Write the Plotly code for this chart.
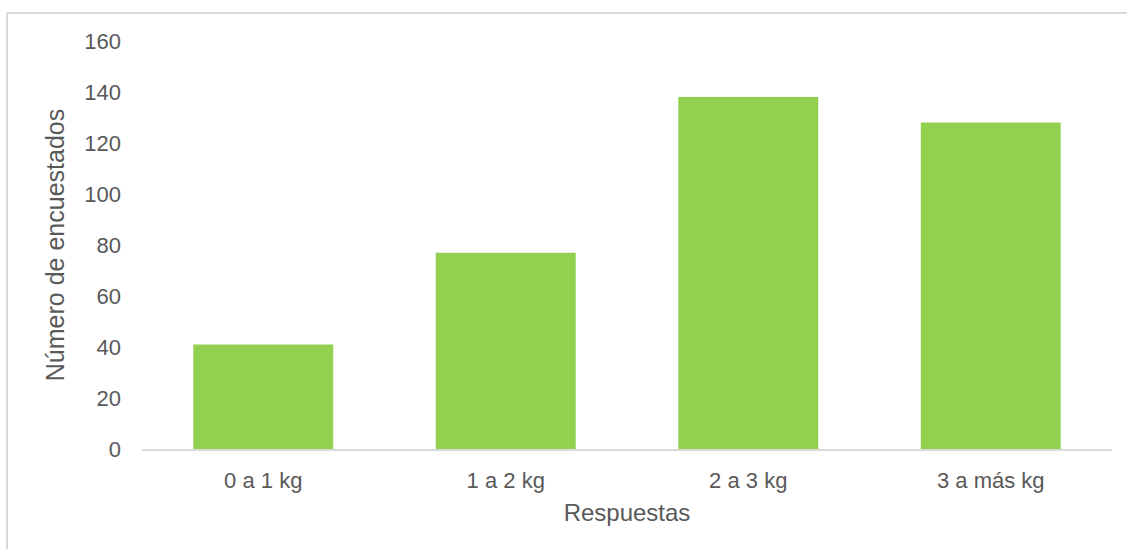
import plotly.graph_objects as go

# Survey responses by weight range
categorias = ["0 a 1 kg", "1 a 2 kg", "2 a 3 kg", "3 a más kg"]
encuestados = [41, 77, 138, 128]
y_ticks = [0, 20, 40, 60, 80, 100, 120, 140, 160]

TEXT = "#595959"
FONT = "Liberation Sans, Arial, sans-serif"

fig = go.Figure(
    go.Bar(
        x=categorias,
        y=encuestados,
        marker=dict(color="#92D050", line=dict(width=0)),
        hoverinfo="x+y",
    )
)

W, H = 1127, 549
L, R, T, B = 142, 15, 41, 100
pw, ph = W - L - R, H - T - B


def px_x(p):
    return (p - L) / pw


def px_y(p):
    return (H - B - p) / ph


fig.update_layout(
    width=W,
    height=H,
    margin=dict(l=L, r=R, t=T, b=B),
    paper_bgcolor="white",
    plot_bgcolor="white",
    bargap=0.423,
    showlegend=False,
    font=dict(family=FONT, color=TEXT),
    xaxis=dict(
        showgrid=False,
        showline=True,
        linecolor="#D9D9D9",
        linewidth=2,
        ticks="",
        tickfont=dict(size=22, color=TEXT),
        ticklabelstandoff=11,
        title=dict(text="Respuestas", font=dict(size=24, color=TEXT), standoff=12),
    ),
    yaxis=dict(
        range=[0, 160],
        tickvals=y_ticks,
        showgrid=False,
        zeroline=False,
        showline=False,
        ticks="",
        tickfont=dict(size=22, color=TEXT),
        ticklabelstandoff=20,
        title=dict(text="Número de encuestados", font=dict(size=25, color=TEXT), standoff=12),
    ),
    shapes=[
        # chart frame: top and left edges
        dict(type="line", xref="paper", yref="paper",
             x0=px_x(7), x1=px_x(1140), y0=px_y(13), y1=px_y(13),
             line=dict(color="#D9D9D9", width=2)),
        dict(type="line", xref="paper", yref="paper",
             x0=px_x(7), x1=px_x(7), y0=px_y(13), y1=px_y(560),
             line=dict(color="#D9D9D9", width=2)),
    ],
)

fig.write_html("out.html")
